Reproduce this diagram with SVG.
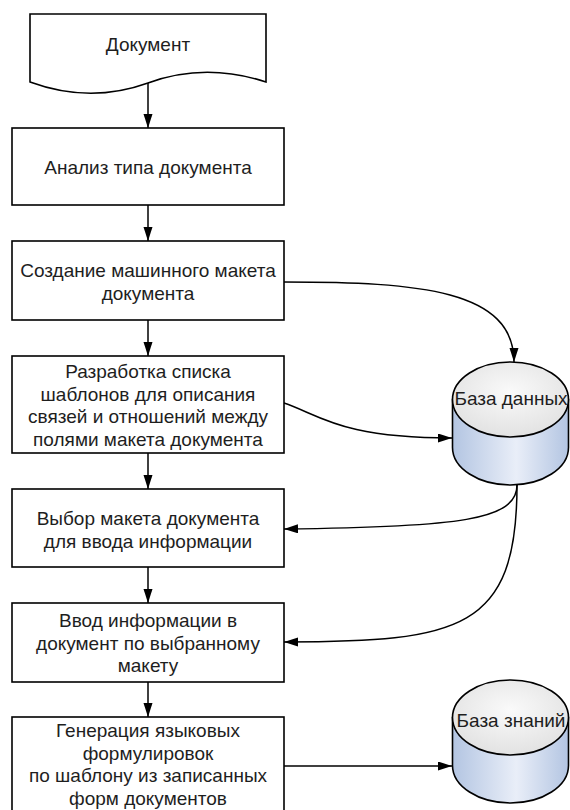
<svg xmlns="http://www.w3.org/2000/svg" width="570" height="810" viewBox="0 0 570 810">
<style>
.box{fill:#fff;stroke:#000;stroke-width:1.6}
.t{font-family:"Liberation Sans",Arial,sans-serif;font-size:19px;fill:#1e1e1e;text-anchor:middle}
.c{fill:none;stroke:#000;stroke-width:1.5}
.cyl{stroke:#000;stroke-width:1.6}
</style>
<defs>
<marker id="ah" markerWidth="14" markerHeight="10" refX="14" refY="4.5" orient="auto" markerUnits="userSpaceOnUse">
<path d="M0,0 L14,4.5 L0,9 z" fill="#000"/>
</marker>
<linearGradient id="body" x1="0" y1="0" x2="1" y2="0">
<stop offset="0" stop-color="#b3c5e2"/>
<stop offset="0.55" stop-color="#e9eef8"/>
<stop offset="1" stop-color="#b3c5e2"/>
</linearGradient>
<radialGradient id="cap" cx="0.5" cy="0.4" r="0.6">
<stop offset="0" stop-color="#fafafa"/>
<stop offset="1" stop-color="#e2e2e2"/>
</radialGradient>
</defs>

<g id="connectors">
<line class="c" x1="148" y1="83" x2="148" y2="128" marker-end="url(#ah)"/>
<line class="c" x1="148" y1="205" x2="148" y2="241" marker-end="url(#ah)"/>
<line class="c" x1="148" y1="320" x2="148" y2="356" marker-end="url(#ah)"/>
<line class="c" x1="148" y1="453" x2="148" y2="489" marker-end="url(#ah)"/>
<line class="c" x1="148" y1="567" x2="148" y2="603" marker-end="url(#ah)"/>
<line class="c" x1="148" y1="682" x2="148" y2="717" marker-end="url(#ah)"/>
<path class="c" d="M284,282 C420,282 514,290 514,362" marker-end="url(#ah)"/>
<path class="c" d="M284,403 C320,415 340,438 452,438" marker-end="url(#ah)"/>
<path class="c" d="M517,485 C517,520 460,527 284,529" marker-end="url(#ah)"/>
<path class="c" d="M517,485 C517,630 460,642 284,642" marker-end="url(#ah)"/>
<line class="c" x1="284" y1="766" x2="452" y2="766" marker-end="url(#ah)"/>
</g>

<g id="doc">
<path class="box" d="M30,14 L266,14 L266,82 Q205,62 148,83 Q90,104 30,82 Z"/>
<text class="t" x="148" y="51">Документ</text>
</g>

<g id="analysis">
<rect class="box" x="12" y="128" width="272" height="77"/>
<text class="t" x="148" y="174">Анализ типа документа</text>
</g>

<g id="create">
<rect class="box" x="12" y="241" width="272" height="79"/>
<text class="t" x="148" y="277">Создание машинного макета</text>
<text class="t" x="148" y="300">документа</text>
</g>

<g id="templates">
<rect class="box" x="12" y="356" width="272" height="97"/>
<text class="t" x="148" y="378">Разработка списка</text>
<text class="t" x="148" y="400.5">шаблонов для описания</text>
<text class="t" x="148" y="423">связей и отношений между</text>
<text class="t" x="148" y="445.5">полями макета документа</text>
</g>

<g id="select">
<rect class="box" x="12" y="489" width="272" height="78"/>
<text class="t" x="148" y="525">Выбор макета документа</text>
<text class="t" x="148" y="548">для ввода информации</text>
</g>

<g id="input">
<rect class="box" x="12" y="603" width="272" height="79"/>
<text class="t" x="148" y="627">Ввод информации в</text>
<text class="t" x="148" y="649.5">документ по выбранному</text>
<text class="t" x="148" y="672">макету</text>
</g>

<g id="generate">
<rect class="box" x="12" y="717" width="272" height="110"/>
<text class="t" x="148" y="737">Генерация языковых</text>
<text class="t" x="148" y="759.5">формулировок</text>
<text class="t" x="148" y="782">по шаблону из записанных</text>
<text class="t" x="148" y="804.5">форм документов</text>
</g>

<g id="database">
<path class="cyl" fill="url(#body)" d="M452.5,399.5 L452.5,447.5 A58,37.5 0 0 0 568.5,447.5 L568.5,399.5 Z"/>
<ellipse class="cyl" fill="url(#cap)" cx="510.5" cy="399.5" rx="58" ry="37.5"/>
<text class="t" x="511" y="405">База данных</text>
</g>

<g id="knowledge">
<path class="cyl" fill="url(#body)" d="M452.5,717.5 L452.5,765.5 A58,37.5 0 0 0 568.5,765.5 L568.5,717.5 Z"/>
<ellipse class="cyl" fill="url(#cap)" cx="510.5" cy="717.5" rx="58" ry="37.5"/>
<text class="t" x="511" y="727">База знаний</text>
</g>
</svg>
